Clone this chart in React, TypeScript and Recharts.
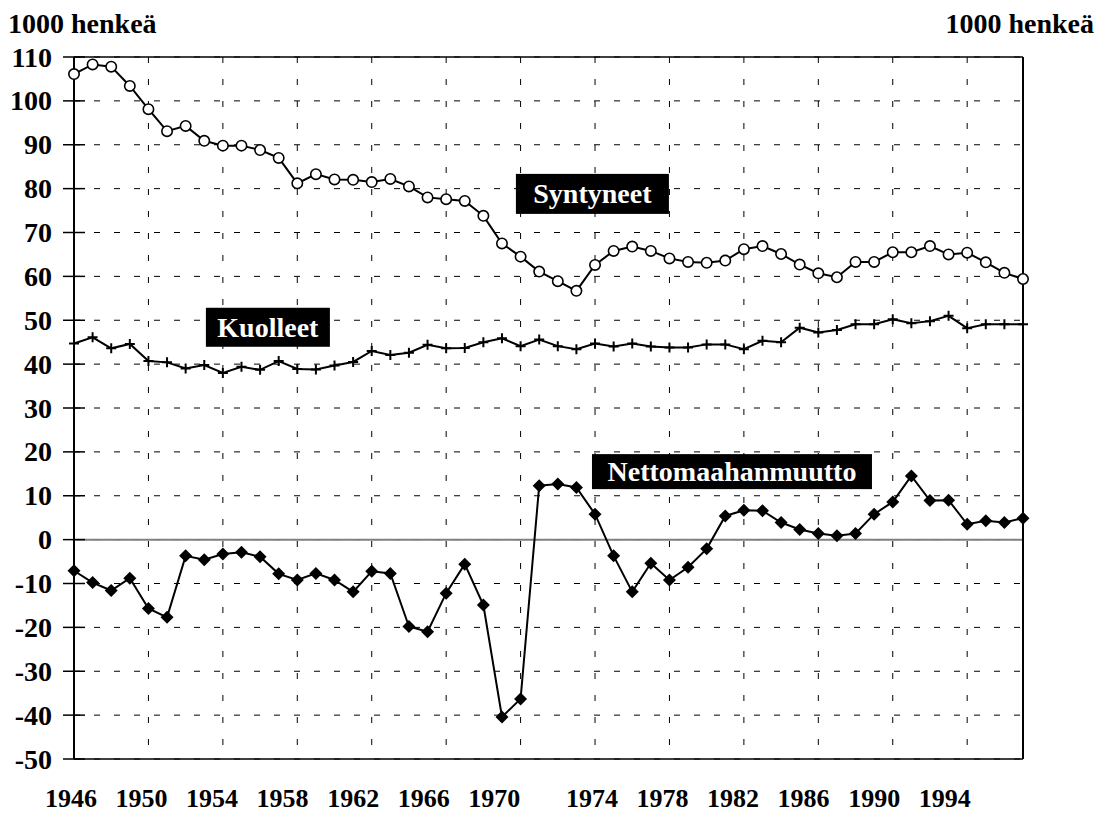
import React from 'react';
import { LineChart, Line, XAxis, YAxis, CartesianGrid, ReferenceLine, ReferenceDot } from 'recharts';

const YEARS = [
  1946, 1947, 1948, 1949, 1950, 1951, 1952, 1953, 1954, 1955, 1956, 1957, 1958,
  1959, 1960, 1961, 1962, 1963, 1964, 1965, 1966, 1967, 1968, 1969, 1970, 1971,
  1972, 1973, 1974, 1975, 1976, 1977, 1978, 1979, 1980, 1981, 1982, 1983, 1984,
  1985, 1986, 1987, 1988, 1989, 1990, 1991, 1992, 1993, 1994, 1995, 1996, 1997,
];

const SYNTYNEET = [
  106.1, 108.3, 107.8, 103.4, 98.1, 93.1, 94.3, 90.9, 89.8, 89.8, 88.8, 87.0, 81.2,
  83.3, 82.1, 82.0, 81.5, 82.2, 80.5, 78.0, 77.6, 77.2, 73.8, 67.5, 64.5, 61.1,
  58.9, 56.7, 62.6, 65.8, 66.8, 65.8, 64.1, 63.3, 63.1, 63.6, 66.2, 66.9, 65.1,
  62.7, 60.7, 59.8, 63.3, 63.3, 65.5, 65.5, 66.9, 65.0, 65.4, 63.2, 60.8, 59.4,
];

const KUOLLEET = [
  44.7, 46.1, 43.6, 44.6, 40.7, 40.4, 39.0, 39.8, 38.0, 39.4, 38.7, 40.7, 38.9,
  38.8, 39.7, 40.5, 43.0, 42.1, 42.6, 44.4, 43.6, 43.7, 45.0, 45.9, 44.1, 45.6,
  44.1, 43.4, 44.7, 44.0, 44.7, 44.0, 43.8, 43.8, 44.5, 44.5, 43.4, 45.3, 45.0,
  48.3, 47.2, 47.8, 49.1, 49.1, 50.2, 49.3, 49.8, 51.0, 48.2, 49.1, 49.1, 49.1,
];

const NETTO = [
  -7.1, -9.8, -11.6, -8.8, -15.7, -17.7, -3.7, -4.6, -3.3, -2.9, -3.9, -7.8, -9.2,
  -7.7, -9.2, -11.9, -7.2, -7.7, -19.8, -21.0, -12.2, -5.6, -14.9, -40.4, -36.3, 12.3,
  12.7, 11.9, 5.8, -3.7, -11.9, -5.4, -9.2, -6.3, -2.1, 5.4, 6.7, 6.6, 3.9,
  2.3, 1.4, 0.9, 1.4, 5.8, 8.6, 14.5, 8.9, 9.0, 3.5, 4.3, 3.9, 4.9,
];

const X_TICKS = [1946, 1950, 1954, 1958, 1962, 1966, 1970, 1974, 1978, 1982, 1986, 1990, 1994];
const Y_TICKS = [-50, -40, -30, -20, -10, 0, 10, 20, 30, 40, 50, 60, 70, 80, 90, 100, 110];

// series name boxes, anchored in data units
const NAME_BOXES = [
  { text: 'Syntyneet', year: 1973.86, value: 78.8, w: 153, h: 40 },
  { text: 'Kuolleet', year: 1956.42, value: 48.4, w: 124, h: 39 },
  { text: 'Nettomaahanmuutto', year: 1981.36, value: 15.5, w: 280, h: 35 },
];

const data = YEARS.map((year, i) => ({
  year,
  syntyneet: SYNTYNEET[i],
  kuolleet: KUOLLEET[i],
  netto: NETTO[i],
}));

const FONT = "'Liberation Serif', 'Times New Roman', 'DejaVu Serif', serif";
const txt = (size: number) => ({ fontFamily: FONT, fontWeight: 700, fontSize: size });

const LeftTick = ({ x, y, payload }: any) => (
  <g>
    <line x1={x - 11} x2={x + 11} y1={y} y2={y} stroke="#000" strokeWidth={1.5} />
    <text x={x - 22} y={y} dy={9.5} textAnchor="end" style={txt(28)} fill="#000">
      {payload.value}
    </text>
  </g>
);

const RightTick = ({ x, y, payload }: any) => (
  <g>
    <line x1={x - 11} x2={x + 11} y1={y} y2={y} stroke="#000" strokeWidth={1.5} />
    <text x={x + 22} y={y} dy={9.5} textAnchor="start" style={txt(28)} fill="#000">
      {payload.value}
    </text>
  </g>
);

// the year labels in the original drift left of their gridlines, in two runs of seven
const YearTick = ({ x, y, payload }: any) => {
  const k = (payload.value - 1946) / 4;
  const shift = -3 - 3.9 * (k % 7);
  return (
    <text x={x + shift} y={y} dy={48} textAnchor="middle" style={txt(26)} fill="#000">
      {payload.value}
    </text>
  );
};

const circleDot = (p: any) => (
  <circle key={`c${p.index}`} cx={p.cx} cy={p.cy} r={5.2} fill="#fff" stroke="#000" strokeWidth={1.6} />
);

const plusDot = (p: any) => (
  <path
    key={`p${p.index}`}
    d={`M${p.cx - 5},${p.cy}H${p.cx + 5}M${p.cx},${p.cy - 5}V${p.cy + 5}`}
    stroke="#000"
    strokeWidth={2}
    fill="none"
  />
);

const diamondDot = (p: any) => (
  <path
    key={`d${p.index}`}
    d={`M${p.cx},${p.cy - 6.5}L${p.cx + 6.5},${p.cy}L${p.cx},${p.cy + 6.5}L${p.cx - 6.5},${p.cy}Z`}
    fill="#000"
    stroke="none"
  />
);

const nameBox = (box: any) => (p: any) => (
  <g>
    <rect x={p.cx - box.w / 2} y={p.cy - box.h / 2} width={box.w} height={box.h} fill="#000" />
    <text x={p.cx} y={p.cy} dy={9.5} textAnchor="middle" style={txt(28)} fill="#fff">
      {box.text}
    </text>
  </g>
);

export default function App() {
  return (
    <div style={{ position: 'absolute', left: 0, top: 0, width: 1101, height: 813, background: '#fff' }}>
      <LineChart width={1101} height={813} data={data} margin={{ top: 57, right: 18, bottom: 14, left: 14 }}>
        <CartesianGrid horizontal={true} vertical={false} stroke="#000" strokeWidth={1} strokeDasharray="6 14" />
        <CartesianGrid horizontal={false} vertical={true} stroke="#000" strokeWidth={1} strokeDasharray="6 16" />
        <XAxis
          dataKey="year"
          type="number"
          domain={[1946, 1997]}
          ticks={X_TICKS}
          axisLine={false}
          tickLine={false}
          tickSize={0}
          tickMargin={0}
          height={40}
          tick={<YearTick />}
          interval={0}
        />
        <YAxis
          domain={[-50, 110]}
          ticks={Y_TICKS}
          width={60}
          axisLine={{ stroke: '#000', strokeWidth: 2 }}
          tickLine={false}
          tickSize={0}
          tickMargin={0}
          tick={<LeftTick />}
          interval={0}
        />
        <YAxis
          yAxisId="right"
          orientation="right"
          domain={[-50, 110]}
          ticks={Y_TICKS}
          width={60}
          axisLine={{ stroke: '#000', strokeWidth: 2 }}
          tickLine={false}
          tickSize={0}
          tickMargin={0}
          tick={<RightTick />}
          interval={0}
        />
        <ReferenceLine y={110} stroke="#000" strokeWidth={1.5} />
        <ReferenceLine y={-50} stroke="#000" strokeWidth={1.5} />
        <ReferenceLine y={0} stroke="#808080" strokeWidth={2} />
        <Line
          dataKey="kuolleet"
          stroke="#000"
          strokeWidth={2}
          dot={plusDot}
          activeDot={false}
          isAnimationActive={false}
        />
        <Line
          dataKey="netto"
          stroke="#000"
          strokeWidth={2}
          dot={diamondDot}
          activeDot={false}
          isAnimationActive={false}
        />
        <Line
          dataKey="syntyneet"
          stroke="#000"
          strokeWidth={2}
          dot={circleDot}
          activeDot={false}
          isAnimationActive={false}
        />
        {NAME_BOXES.map((b) => (
          <ReferenceDot key={b.text} x={b.year} y={b.value} r={0} ifOverflow="visible" shape={nameBox(b)} />
        ))}
      </LineChart>
      <svg width={1101} height={813} style={{ position: 'absolute', left: 0, top: 0, pointerEvents: 'none' }}>
        <text x={8} y={33} style={txt(28)} fill="#000">
          1000 henkeä
        </text>
        <text x={1094} y={33} textAnchor="end" style={txt(28)} fill="#000">
          1000 henkeä
        </text>
      </svg>
    </div>
  );
}
